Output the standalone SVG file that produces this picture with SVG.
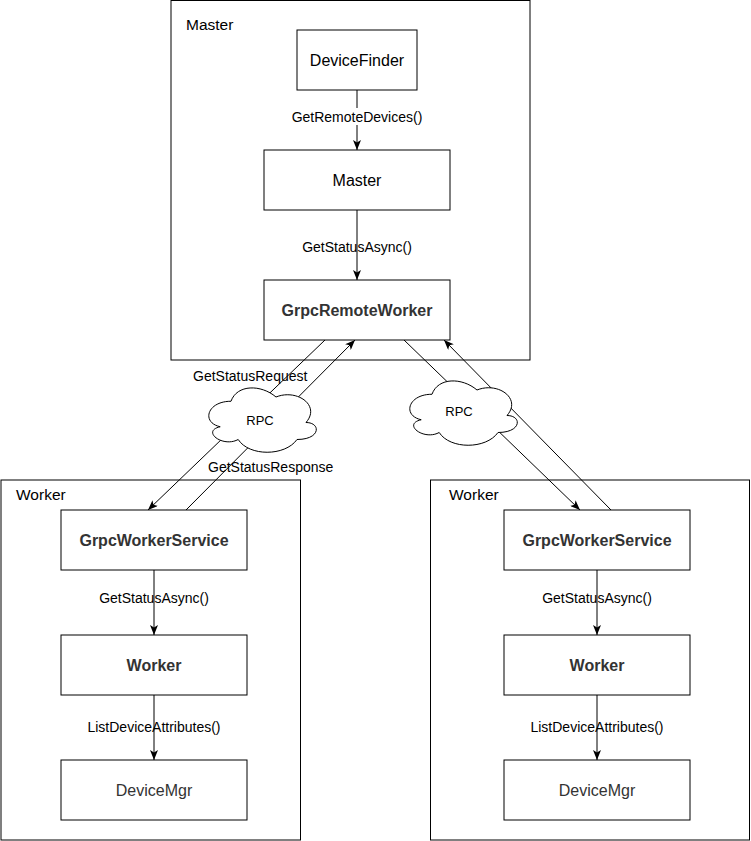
<svg xmlns="http://www.w3.org/2000/svg" width="751" height="841" viewBox="0 0 751 841">
  <style>
    .container { fill: #ffffff; stroke: #000000; stroke-width: 1; }
    .box { fill: #ffffff; stroke: #000000; stroke-width: 1; }
    .cloud { fill: #ffffff; stroke: #000000; stroke-width: 1; }
    .edge { fill: none; stroke: #000000; stroke-width: 1; }
    text { font-family: "Liberation Sans", Arial, Helvetica, sans-serif; }
    .ctitle { font-size: 15.5px; fill: #000000; }
    .name { font-size: 16px; fill: #000000; text-anchor: middle; }
    .bold { font-size: 16px; fill: #333333; font-weight: bold; text-anchor: middle; }
    .grey { fill: #333333; }
    .lbl { font-size: 14px; fill: #000000; text-anchor: middle; }
    .start { text-anchor: start; }
    .rpc { font-size: 13px; fill: #000000; text-anchor: middle; }
  </style>
  <defs>
    <marker id="arrow" markerUnits="userSpaceOnUse" viewBox="0 0 10 8" markerWidth="10" markerHeight="8" refX="10" refY="4" orient="auto">
      <path d="M0,0 L10,4 L0,8 L2.5,4 Z" fill="#000000"/>
    </marker>
    <path id="cloudShape" d="M30,21.25 C6,21.25 0,42.5 19.2,46.75 C0,51 21.6,68 37.2,59.5 C48,76.5 84,76.5 96,59.5 C120,59.5 120,42.5 105,42.5 C120,25.5 96,8.5 75,17 C60,4.25 36,4.25 30,21.25 Z"/>
  </defs>

  <rect width="751" height="841" fill="#ffffff"/>

  <!-- Containers -->
  <g id="master-container">
    <rect class="container" x="171" y="0.5" width="359" height="359.5"/>
    <text class="ctitle" x="186" y="30">Master</text>
  </g>
  <g id="worker-container-left">
    <rect class="container" x="1" y="480" width="299.5" height="360"/>
    <text class="ctitle" x="16" y="500">Worker</text>
  </g>
  <g id="worker-container-right">
    <rect class="container" x="430.5" y="480" width="319" height="360"/>
    <text class="ctitle" x="449" y="500">Worker</text>
  </g>

  <!-- Nodes -->
  <g id="devicefinder">
    <rect class="box" x="297" y="30" width="120" height="60"/>
    <text class="name" x="357" y="65.5">DeviceFinder</text>
  </g>
  <g id="master">
    <rect class="box" x="264" y="150" width="186" height="60"/>
    <text class="name" x="357" y="185.5">Master</text>
  </g>
  <g id="grpcremoteworker">
    <rect class="box" x="264" y="280" width="186" height="60"/>
    <text class="bold" x="357" y="315.5">GrpcRemoteWorker</text>
  </g>

  <g id="grpcworkerservice-left">
    <rect class="box" x="61" y="510" width="186" height="60"/>
    <text class="bold" x="154" y="545.5">GrpcWorkerService</text>
  </g>
  <g id="worker-left">
    <rect class="box" x="61" y="635" width="186" height="60"/>
    <text class="bold" x="154" y="670.5">Worker</text>
  </g>
  <g id="devicemgr-left">
    <rect class="box" x="61" y="760" width="186" height="60"/>
    <text class="name grey" x="154" y="795.5">DeviceMgr</text>
  </g>

  <g id="grpcworkerservice-right">
    <rect class="box" x="504" y="510" width="186" height="60"/>
    <text class="bold" x="597" y="545.5">GrpcWorkerService</text>
  </g>
  <g id="worker-right">
    <rect class="box" x="504" y="635" width="186" height="60"/>
    <text class="bold" x="597" y="670.5">Worker</text>
  </g>
  <g id="devicemgr-right">
    <rect class="box" x="504" y="760" width="186" height="60"/>
    <text class="name grey" x="597" y="795.5">DeviceMgr</text>
  </g>

  <!-- Connectors -->
  <g id="connectors">
    <line class="edge" x1="357" y1="90" x2="357" y2="150" marker-end="url(#arrow)"/>
    <line class="edge" x1="357" y1="210" x2="357" y2="280" marker-end="url(#arrow)"/>
    <line class="edge" x1="154" y1="570" x2="154" y2="635" marker-end="url(#arrow)"/>
    <line class="edge" x1="154" y1="695" x2="154" y2="760" marker-end="url(#arrow)"/>
    <line class="edge" x1="597" y1="570" x2="597" y2="635" marker-end="url(#arrow)"/>
    <line class="edge" x1="597" y1="695" x2="597" y2="760" marker-end="url(#arrow)"/>
    <line class="edge" x1="325" y1="340" x2="148" y2="510" marker-end="url(#arrow)"/>
    <line class="edge" x1="186" y1="510" x2="355" y2="340" marker-end="url(#arrow)"/>
    <line class="edge" x1="404" y1="340" x2="580" y2="510" marker-end="url(#arrow)"/>
    <line class="edge" x1="611" y1="510" x2="444" y2="340" marker-end="url(#arrow)"/>
  </g>

  <!-- Clouds -->
  <g id="rpc-cloud-left">
    <use href="#cloudShape" class="cloud" x="201" y="380"/>
    <text class="rpc" x="260" y="425">RPC</text>
  </g>
  <g id="rpc-cloud-right">
    <use href="#cloudShape" class="cloud" x="402" y="373"/>
    <text class="rpc" x="459" y="416">RPC</text>
  </g>

  <!-- Connector labels -->
  <g id="connector-labels">
    <rect x="290" y="108" width="134" height="17" fill="#ffffff"/>
    <text class="lbl grey" x="357" y="122">GetRemoteDevices()</text>
    <text class="lbl" x="357" y="252">GetStatusAsync()</text>
    <text class="lbl" x="154" y="603">GetStatusAsync()</text>
    <text class="lbl" x="154" y="731.5">ListDeviceAttributes()</text>
    <text class="lbl" x="597" y="603">GetStatusAsync()</text>
    <text class="lbl" x="597" y="731.5">ListDeviceAttributes()</text>
    <text class="lbl start" x="193" y="381">GetStatusRequest</text>
    <text class="lbl grey start" x="208" y="471.5">GetStatusResponse</text>
  </g>
</svg>
